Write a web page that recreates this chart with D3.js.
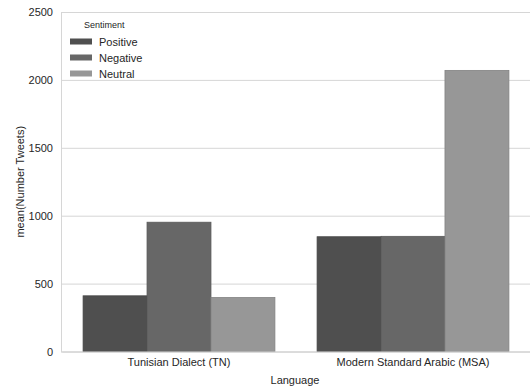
<!DOCTYPE html>
<html><head><meta charset="utf-8">
<script src="https://cdn.jsdelivr.net/npm/d3@7"></script>
<style>body{margin:0;background:#fff}svg{display:block}</style>
</head><body><svg id="c" width="530" height="389"></svg>
<script>
const categories = ["Tunisian Dialect (TN)", "Modern Standard Arabic (MSA)"];
const seriesNames = ["Positive", "Negative", "Neutral"];
const positive = [410, 845];
const negative = [952, 848];
const neutral = [398, 2070];
const yTicks = [0, 500, 1000, 1500, 2000, 2500];
const colors = ["#4f4f4f", "#676767", "#979797"];

const series = [positive, negative, neutral];
const svg = d3.select("#c");
const m = {l: 61, r: 531, t: 12, b: 351.5};
const x = d3.scaleBand().domain(categories).range([m.l + 1, m.r - 1]).paddingInner(0).paddingOuter(0);
const xs = d3.scaleBand().domain(seriesNames).range([0, x.bandwidth()]).paddingInner(0).paddingOuter(0.33);
const y = d3.scaleLinear().domain([0, 2500]).range([m.b, m.t]);
const font = "'Liberation Sans', Arial, sans-serif";

// grid
const yAxis = d3.axisLeft(y).tickValues(yTicks).tickFormat(d3.format("d")).tickSize(-(m.r - m.l)).tickPadding(8);
const ga = svg.append("g").attr("transform", `translate(${m.l},0)`).call(yAxis);
ga.select(".domain").attr("stroke", "#d6d6d6");
ga.selectAll(".tick line").attr("stroke", "#d6d6d6").attr("stroke-width", 1);
ga.selectAll(".tick text").attr("font-family", font).attr("font-size", 11).attr("fill", "#262626");

// bars
seriesNames.forEach((s, i) => {
  svg.append("g").selectAll("rect").data(categories).join("rect")
    .attr("x", c => x(c) + xs(s))
    .attr("width", xs.bandwidth())
    .attr("y", (c, j) => y(series[i][j]))
    .attr("height", (c, j) => y(0) - y(series[i][j]))
    .attr("fill", colors[i])
    .attr("stroke", d3.color(colors[i]).darker(0.4))
    .attr("stroke-width", 0.8);
});

// x axis
const xAxis = d3.axisBottom(x).tickSize(0).tickPadding(7);
const gx = svg.append("g").attr("transform", `translate(0,${m.b})`).call(xAxis);
gx.select(".domain").attr("stroke", "#d6d6d6");
gx.selectAll(".tick text").attr("font-family", font).attr("font-size", 11).attr("fill", "#262626");

svg.append("text").attr("x", (m.l + m.r) / 2 - 1).attr("y", 384).attr("text-anchor", "middle")
  .attr("font-family", font).attr("font-size", 11).attr("fill", "#262626").text("Language");
svg.append("text").attr("transform", `translate(24,${(m.t + m.b) / 2}) rotate(-90)`).attr("text-anchor", "middle")
  .attr("font-family", font).attr("font-size", 11).attr("fill", "#262626").text("mean(Number Tweets)");

// legend
const lg = svg.append("g");
lg.append("text").attr("x", 84).attr("y", 28).attr("font-family", font).attr("font-size", 9).attr("fill", "#262626").text("Sentiment");
seriesNames.forEach((s, i) => {
  lg.append("rect").attr("x", 70).attr("y", 38.5 + i * 16).attr("width", 22).attr("height", 6).attr("fill", colors[i]);
  lg.append("text").attr("x", 99).attr("y", 45.5 + i * 16).attr("font-family", font).attr("font-size", 11).attr("fill", "#262626").text(s);
});
</script></body></html>
